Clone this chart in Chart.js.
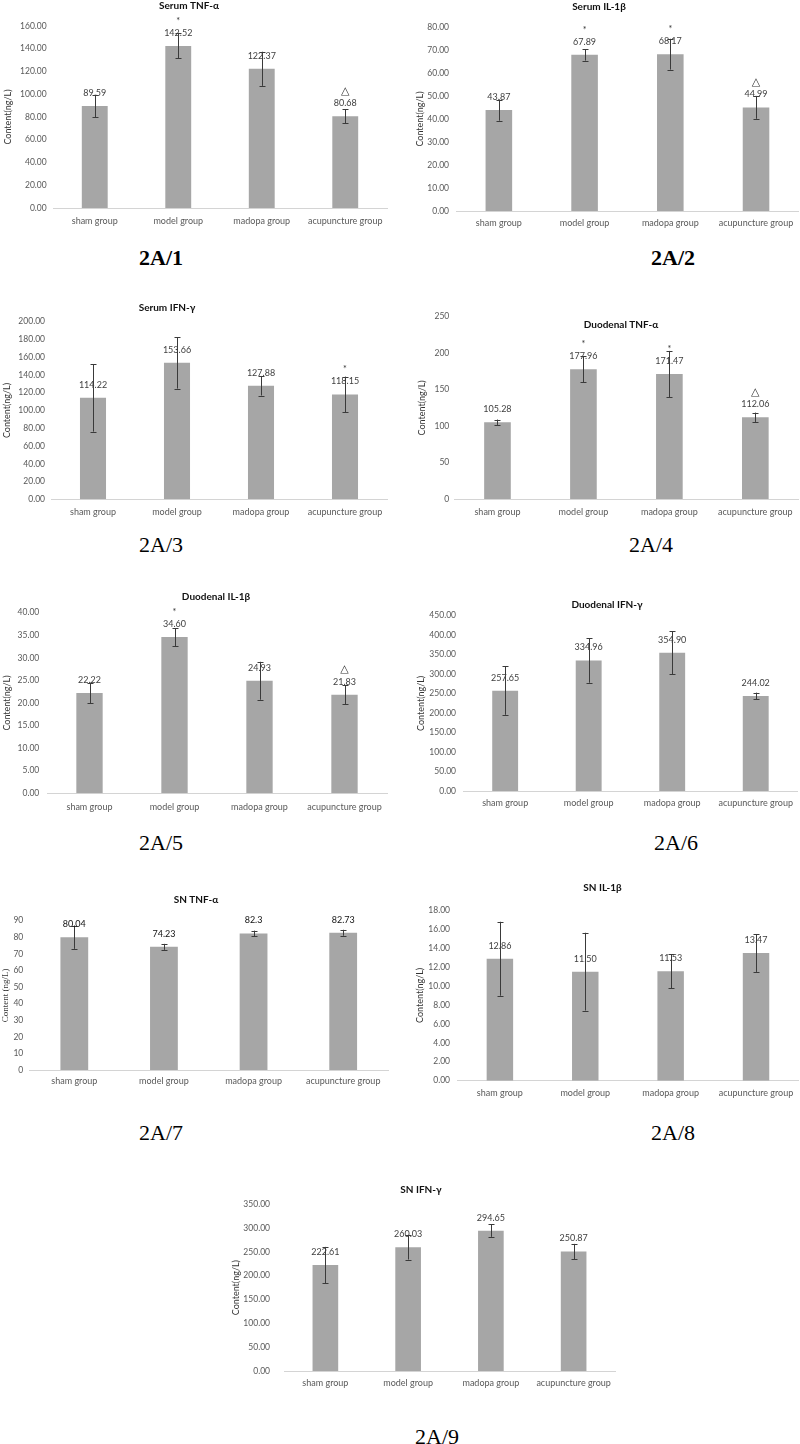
<!DOCTYPE html>
<html>
<head>
<meta charset="utf-8">
<script src="https://cdn.jsdelivr.net/npm/chart.js@4.4.0/dist/chart.umd.min.js"></script>
<style>
html,body{margin:0;padding:0;background:#fff;}
#page{position:relative;width:800px;height:1444px;overflow:hidden;background:#fff;}
#page canvas{position:absolute;}
.tag{position:absolute;font-family:"Liberation Serif","Times New Roman",serif;font-size:22px;color:#000;transform:translate(-50%,-50%);white-space:nowrap;line-height:1;}
.tag.b{font-weight:bold;}
</style>
</head>
<body>
<div id="page"></div>
<script>
// ---------- data ----------
const categories = ['sham group', 'model group', 'madopa group', 'acupuncture group'];

const serumTnfMeans  = [89.59, 142.52, 122.37, 80.68];
const serumTnfErrors = [10, 11, 15, 6];
const serumTnfMarks  = ['', '*', '', '△'];

const serumIl1Means  = [43.87, 67.89, 68.17, 44.99];
const serumIl1Errors = [4.6, 2.5, 6.7, 4.9];
const serumIl1Marks  = ['', '*', '*', '△'];

const serumIfnMeans  = [114.22, 153.66, 127.88, 118.15];
const serumIfnErrors = [38, 29, 11, 20];
const serumIfnMarks  = ['', '', '', '*'];

const duoTnfMeans  = [105.28, 177.96, 171.47, 112.06];
const duoTnfErrors = [3.7, 17.6, 31.6, 6.4];
const duoTnfMarks  = ['', '*', '*', '△'];

const duoIl1Means  = [22.22, 34.60, 24.93, 21.83];
const duoIl1Errors = [2.3, 2.0, 4.2, 2.1];
const duoIl1Marks  = ['', '*', '', '△'];

const duoIfnMeans  = [257.65, 334.96, 354.90, 244.02];
const duoIfnErrors = [62, 57, 55, 8.5];
const duoIfnMarks  = ['', '', '', ''];

const snTnfMeans  = [80.04, 74.23, 82.3, 82.73];
const snTnfErrors = [7, 1.8, 1.7, 1.8];
const snTnfMarks  = ['', '', '', ''];

const snIl1Means  = [12.86, 11.50, 11.53, 13.47];
const snIl1Errors = [3.9, 4.1, 1.8, 2.0];
const snIl1Marks  = ['', '', '', ''];

const snIfnMeans  = [222.61, 260.03, 294.65, 250.87];
const snIfnErrors = [38, 26, 13, 16];
const snIfnMarks  = ['', '', '', ''];

const panelTitles = ['Serum TNF-α', 'Serum IL-1β', 'Serum IFN-γ', 'Duodenal TNF-α', 'Duodenal IL-1β', 'Duodenal IFN-γ', 'SN TNF-α', 'SN IL-1β', 'SN IFN-γ'];
const panelTags   = ['2A/1', '2A/2', '2A/3', '2A/4', '2A/5', '2A/6', '2A/7', '2A/8', '2A/9'];
const yTitles     = ['Content(ng/L)', 'Content(ng/L)', 'Content(ng/L)', 'Content(ng/L)', 'Content(ng/L)', 'Content(ng/L)', 'Content (ng/L)', 'Content(ng/L)', 'Content(ng/L)'];
const yMaxes      = [160, 80, 200, 250, 40, 450, 90, 18, 350];
const ySteps      = [20, 10, 20, 50, 5, 50, 10, 2, 50];
const tickDecimals  = [2, 2, 2, 0, 2, 2, 0, 2, 2];
const labelDecimals = [2, 2, 2, 2, 2, 2, null, 2, 2];

const seriesMeans  = [serumTnfMeans, serumIl1Means, serumIfnMeans, duoTnfMeans, duoIl1Means, duoIfnMeans, snTnfMeans, snIl1Means, snIfnMeans];
const seriesErrors = [serumTnfErrors, serumIl1Errors, serumIfnErrors, duoTnfErrors, duoIl1Errors, duoIfnErrors, snTnfErrors, snIl1Errors, snIfnErrors];
const seriesMarks  = [serumTnfMarks, serumIl1Marks, serumIfnMarks, duoTnfMarks, duoIl1Marks, duoIfnMarks, snTnfMarks, snIl1Marks, snIfnMarks];

// ---------- layout (page coordinates) ----------
// box: canvas [left, top, width, height]; area: plot [left, right, top, bottom]
const layouts = [
  {box:[0,0,395,235],    area:[53,387,26,208],        title:[189,6],      yTitleX:8.3,  tickRight:46.7, catY:220.7,  tag:[161,258],  bold:true},
  {box:[400,0,400,235],  area:[456,799,27,211],       title:[599,7],      yTitleX:420,  tickRight:449,  catY:223,    tag:[673,258],  bold:true},
  {box:[0,300,395,230],  area:[51,387,321.7,499.3],   title:[167,308],    yTitleX:7,    tickRight:45,   catY:511.7,  tag:[161,545],  bold:false},
  {box:[400,300,400,230],area:[454.5,799,316.7,499],  title:[621,325],    yTitleX:421.7,tickRight:449.3,catY:511.7,  tag:[651,545],  bold:false},
  {box:[0,580,395,240],  area:[47,387,612.7,793.3],   title:[216,596.7],  yTitleX:7.3,  tickRight:39.3, catY:806.7,  tag:[161,843],  bold:false},
  {box:[400,580,400,240],area:[463.4,799,615.7,791],  title:[607,605],    yTitleX:420.7,tickRight:456,  catY:803.3,  tag:[676,843],  bold:false},
  {box:[0,870,395,225],  area:[29.5,388,920.7,1070],  title:[196,899.3],  yTitleX:5.5,  tickRight:23.3, catY:1080.7, tag:[161,1133], bold:false},
  {box:[400,870,400,240],area:[457.2,799,910,1080.7], title:[602.5,887.3],yTitleX:420,  tickRight:450,  catY:1092.7, tag:[673,1133], bold:false},
  {box:[220,1170,400,235],area:[284,615,1204.3,1371], title:[421,1190],   yTitleX:236,  tickRight:270,  catY:1383.3, tag:[437,1437], bold:false}
];

const SANS = 'Lato, "Open Sans", "Liberation Sans", sans-serif';

const decorPlugin = {
  id: 'decor',
  afterDatasetsDraw(chart, args, opts) {
    const ctx = chart.ctx;
    const meta = chart.getDatasetMeta(0);
    const yScale = chart.scales.y;
    ctx.save();
    // panel title
    ctx.font = 'bold 10px ' + SANS;
    ctx.fillStyle = '#111';
    ctx.textAlign = 'center';
    ctx.textBaseline = 'middle';
    ctx.fillText(opts.title, opts.titleX, opts.titleY);

    meta.data.forEach((bar, i) => {
      const m = opts.means[i], e = opts.errors[i];
      const x = bar.x;
      const yHi = yScale.getPixelForValue(m + e);
      const yLo = yScale.getPixelForValue(m - e);
      // error bar
      ctx.strokeStyle = '#3a3a3a';
      ctx.lineWidth = 1;
      ctx.beginPath();
      ctx.moveTo(Math.round(x) + 0.5, yHi);
      ctx.lineTo(Math.round(x) + 0.5, yLo);
      ctx.moveTo(Math.round(x) - 2.5, Math.round(yHi) + 0.5);
      ctx.lineTo(Math.round(x) + 3.5, Math.round(yHi) + 0.5);
      ctx.moveTo(Math.round(x) - 2.5, Math.round(yLo) + 0.5);
      ctx.lineTo(Math.round(x) + 3.5, Math.round(yLo) + 0.5);
      ctx.stroke();
      // value label
      const txt = opts.decimals === null ? String(m) : m.toFixed(opts.decimals);
      const ly = bar.y - 13;
      ctx.font = '9px ' + SANS;
      ctx.fillStyle = opts.labelColor;
      ctx.textAlign = 'center';
      ctx.textBaseline = 'middle';
      ctx.fillText(txt, x, ly);
      // significance mark
      const mk = opts.marks[i];
      if (mk === '*') {
        ctx.font = '9px ' + SANS;
        ctx.fillStyle = '#333';
        ctx.fillText('*', x, ly - 12);
      } else if (mk === '△') {
        ctx.font = '11px "DejaVu Sans", sans-serif';
        ctx.fillStyle = '#333';
        ctx.fillText('△', x, ly - 12.5);
      }
    });
    ctx.restore();
  }
};

const page = document.getElementById('page');

layouts.forEach((lay, p) => {
  const [L, T, W, H] = lay.box;
  const [CL, CR, CT, CB] = lay.area;
  const canvas = document.createElement('canvas');
  canvas.width = W; canvas.height = H;
  canvas.style.left = L + 'px'; canvas.style.top = T + 'px';
  canvas.style.width = W + 'px'; canvas.style.height = H + 'px';
  page.appendChild(canvas);

  const tag = document.createElement('div');
  tag.className = 'tag' + (lay.bold ? ' b' : '');
  tag.textContent = panelTags[p];
  tag.style.left = lay.tag[0] + 'px';
  tag.style.top = lay.tag[1] + 'px';
  page.appendChild(tag);

  const yAxisWidth = CL - L;
  const xAxisHeight = (T + H) - CB;
  const yTitleFont = p === 6 ? {family: '"Liberation Serif", serif', size: 9} : {family: SANS, size: 9};
  const yTitlePad = (lay.yTitleX - L) - 5.4;

  new Chart(canvas, {
    type: 'bar',
    data: {
      labels: categories,
      datasets: [{
        data: seriesMeans[p],
        backgroundColor: '#a6a6a6',
        borderWidth: 0,
        categoryPercentage: 1.0,
        barPercentage: 0.31
      }]
    },
    options: {
      responsive: false,
      animation: false,
      devicePixelRatio: 1,
      layout: { padding: { left: 0, right: (L + W) - CR, top: CT - T, bottom: 0 } },
      plugins: {
        legend: { display: false },
        tooltip: { enabled: false },
        decor: {
          title: panelTitles[p],
          titleX: lay.title[0] - L,
          titleY: lay.title[1] - T,
          means: seriesMeans[p],
          errors: seriesErrors[p],
          marks: seriesMarks[p],
          decimals: labelDecimals[p],
          labelColor: p === 6 ? '#111' : '#404040'
        }
      },
      scales: {
        x: {
          grid: { display: false, drawTicks: false },
          border: { display: true, color: '#d4d4d4', width: 1 },
          ticks: {
            color: '#595959',
            font: { family: SANS, size: 9 },
            padding: lay.catY - CB - 5.4,
            maxRotation: 0, minRotation: 0, autoSkip: false
          },
          afterFit: (s) => { s.height = xAxisHeight; }
        },
        y: {
          min: 0,
          max: yMaxes[p],
          grid: { display: false, drawTicks: false },
          border: { display: false },
          ticks: {
            stepSize: ySteps[p],
            color: '#595959',
            font: { family: SANS, size: 8.5 },
            padding: CL - lay.tickRight,
            callback: (v) => Number(v).toFixed(tickDecimals[p])
          },
          title: {
            display: true,
            text: yTitles[p],
            color: '#333',
            font: yTitleFont,
            padding: { top: yTitlePad, bottom: 0 }
          },
          afterFit: (s) => { s.width = yAxisWidth; }
        }
      }
    },
    plugins: [decorPlugin]
  });
});
</script>
</body>
</html>
